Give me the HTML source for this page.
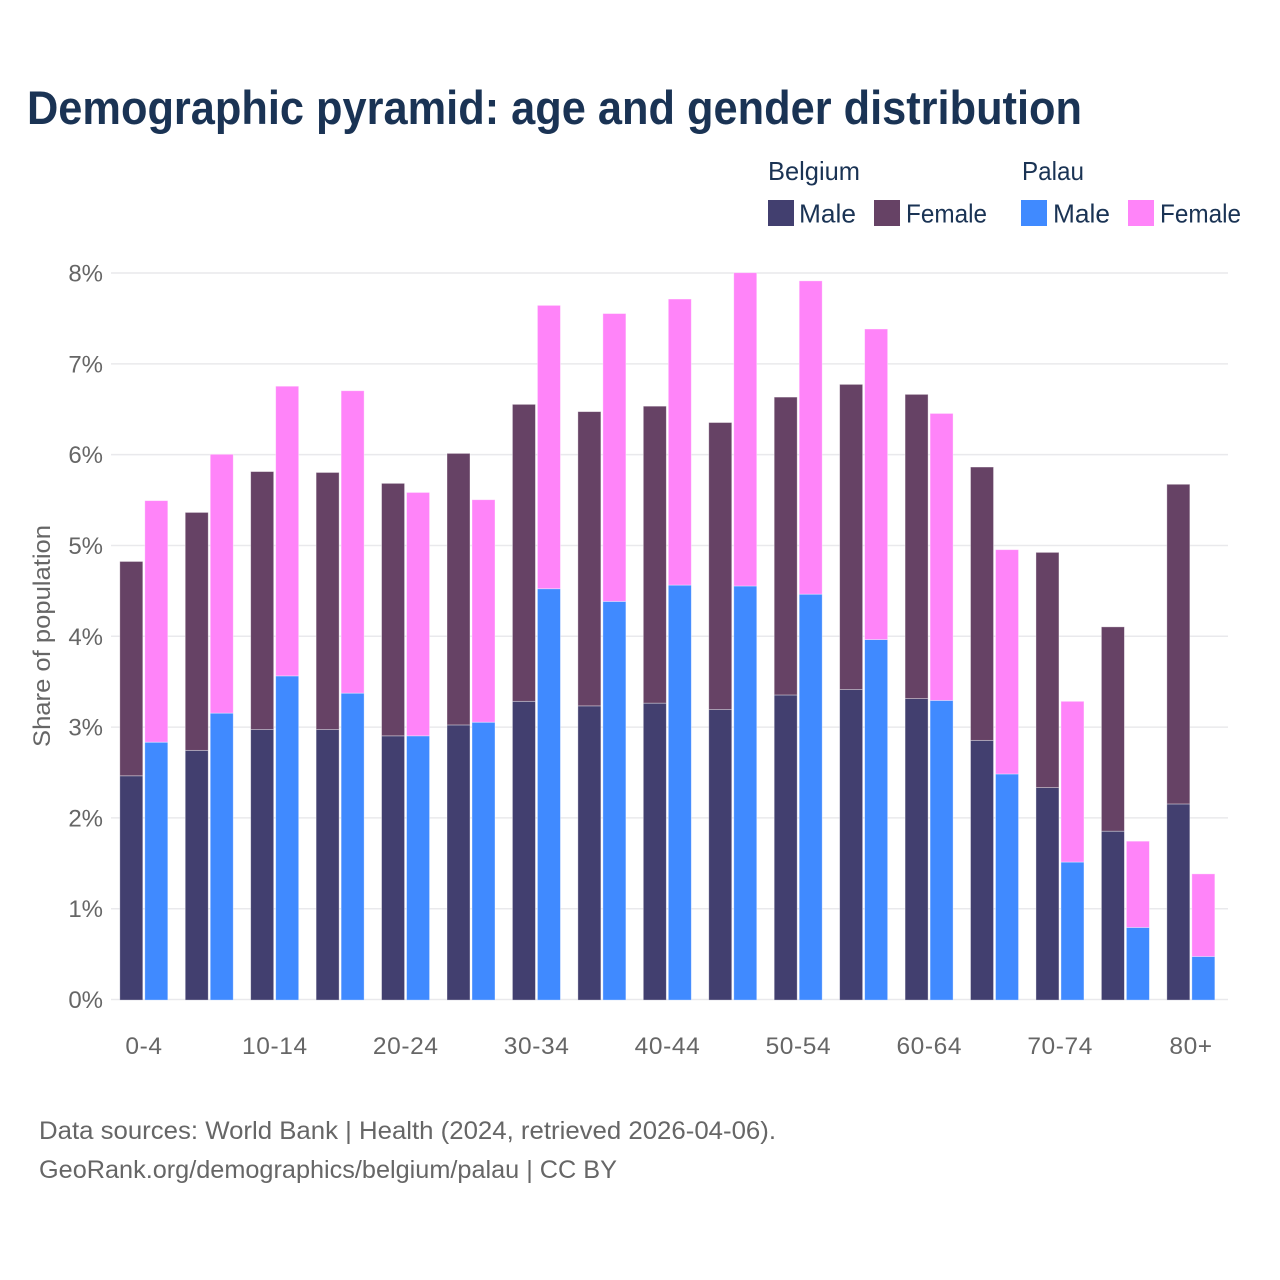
<!DOCTYPE html>
<html lang="en">
<head>
<meta charset="utf-8">
<title>Demographic pyramid</title>
<style>
html,body{margin:0;padding:0;background:#fff;}
svg{display:block;font-family:"Liberation Sans",sans-serif;}
</style>
</head>
<body>
<svg id="chart" width="1280" height="1280" viewBox="0 0 1280 1280" xmlns="http://www.w3.org/2000/svg">
<rect width="1280" height="1280" fill="#fff"/>
<text x="27" y="124" font-size="47" font-weight="700" fill="#1a3354" textLength="1055" lengthAdjust="spacingAndGlyphs">Demographic pyramid: age and gender distribution</text>
<g id="gridlines"></g>
<g id="y-ticks"></g>
<g id="bars" transform="translate(-0.2,0.6)"></g>
<g id="x-ticks"></g>
<text transform="translate(50,636) rotate(-90)" text-anchor="middle" font-size="24" fill="#666" textLength="222" lengthAdjust="spacingAndGlyphs">Share of population</text>
<g font-size="26" fill="#1a3354">
<text x="768" y="180" textLength="92" lengthAdjust="spacingAndGlyphs">Belgium</text>
<text x="1022" y="180" textLength="62" lengthAdjust="spacingAndGlyphs">Palau</text>
<rect x="768" y="200" width="26" height="26" fill="#423f6f"/>
<text x="799" y="222.500" textLength="57" lengthAdjust="spacingAndGlyphs">Male</text>
<rect x="874" y="200" width="26" height="26" fill="#664265"/>
<text x="906" y="222.500" textLength="81" lengthAdjust="spacingAndGlyphs">Female</text>
<rect x="1021" y="200" width="26" height="26" fill="#408aff"/>
<text x="1053" y="222.500" textLength="57" lengthAdjust="spacingAndGlyphs">Male</text>
<rect x="1128" y="200" width="26" height="26" fill="#ff84f9"/>
<text x="1160" y="222.500" textLength="81" lengthAdjust="spacingAndGlyphs">Female</text>
</g>
<g font-size="25" fill="#666">
<text x="39" y="1139" textLength="737" lengthAdjust="spacingAndGlyphs">Data sources: World Bank | Health (2024, retrieved 2026-04-06).</text>
<text x="39" y="1178" textLength="578" lengthAdjust="spacingAndGlyphs">GeoRank.org/demographics/belgium/palau | CC BY</text>
</g>
</svg>
<script>
const categories = ['0-4','5-9','10-14','15-19','20-24','25-29','30-34','35-39','40-44','45-49','50-54','55-59','60-64','65-69','70-74','75-79','80+'];
const xTickLabels = ['0-4','10-14','20-24','30-34','40-44','50-54','60-64','70-74','80+'];
const yTickValues = [0,1,2,3,4,5,6,7,8];
const belgiumMale = [2.47,2.75,2.98,2.98,2.91,3.03,3.29,3.24,3.27,3.20,3.36,3.42,3.32,2.86,2.34,1.86,2.16];
const belgiumFemale = [2.36,2.62,2.84,2.83,2.78,2.99,3.27,3.24,3.27,3.16,3.28,3.36,3.35,3.01,2.59,2.25,3.52];
const palauMale = [2.84,3.16,3.57,3.38,2.91,3.06,4.53,4.39,4.57,4.56,4.47,3.97,3.30,2.49,1.52,0.80,0.48];
const palauFemale = [2.66,2.85,3.19,3.33,2.68,2.45,3.12,3.17,3.15,3.45,3.45,3.42,3.16,2.47,1.77,0.95,0.91];

const NS = 'http://www.w3.org/2000/svg';
const plotLeft = 111, plotRight = 1228, plotBottom = 999.5, plotTop = 273;
const yMax = 8;
function yScale(v){ return plotBottom - (v / yMax) * (plotBottom - plotTop); }
function bandStart(i){ return 120 + i * 65.44; }
const barWidth = 23;
const barOffset = 25;

const gridG = document.getElementById('gridlines');
const yG = document.getElementById('y-ticks');
yTickValues.forEach(function(t){
  const line = document.createElementNS(NS,'line');
  line.setAttribute('x1', plotLeft);
  line.setAttribute('x2', plotRight);
  line.setAttribute('y1', yScale(t));
  line.setAttribute('y2', yScale(t));
  line.setAttribute('stroke', '#e9e9ec');
  line.setAttribute('stroke-width', '1.5');
  
  
  gridG.appendChild(line);
  const label = document.createElementNS(NS,'text');
  label.setAttribute('x', 103);
  label.setAttribute('y', yScale(t) + 8.5);
  label.setAttribute('text-anchor', 'end');
  label.setAttribute('font-size', '24');
  label.setAttribute('fill', '#666');
  
  
  label.textContent = t + '%';
  yG.appendChild(label);
});

const barsG = document.getElementById('bars');
function addBar(x, v0, v1, fill, name){
  const r = document.createElementNS(NS,'rect');
  r.setAttribute('x', x);
  r.setAttribute('y', yScale(v1));
  r.setAttribute('width', barWidth);
  r.setAttribute('height', yScale(v0) - yScale(v1));
  r.setAttribute('fill', fill);
  r.setAttribute('stroke', '#fff');
  r.setAttribute('stroke-opacity', '0.45');
  r.setAttribute('stroke-width', '0.8');
  
  
  barsG.appendChild(r);
}
categories.forEach(function(cat, i){
  const x = bandStart(i);
  addBar(x, 0, belgiumMale[i], '#423f6f', 'bar-belgium-male-' + cat);
  addBar(x, belgiumMale[i], belgiumMale[i] + belgiumFemale[i], '#664265', 'bar-belgium-female-' + cat);
  addBar(x + barOffset, 0, palauMale[i], '#408aff', 'bar-palau-male-' + cat);
  addBar(x + barOffset, palauMale[i], palauMale[i] + palauFemale[i], '#ff84f9', 'bar-palau-female-' + cat);
});

const xG = document.getElementById('x-ticks');
xTickLabels.forEach(function(lbl){
  const i = categories.indexOf(lbl);
  const label = document.createElementNS(NS,'text');
  label.setAttribute('x', bandStart(i) + 24);
  label.setAttribute('y', 1054);
  label.setAttribute('text-anchor', 'middle');
  label.setAttribute('font-size', '24.5');
  label.setAttribute('letter-spacing', '0.6');
  label.setAttribute('fill', '#666');
  
  
  label.textContent = lbl;
  xG.appendChild(label);
});
</script>
</body>
</html>
